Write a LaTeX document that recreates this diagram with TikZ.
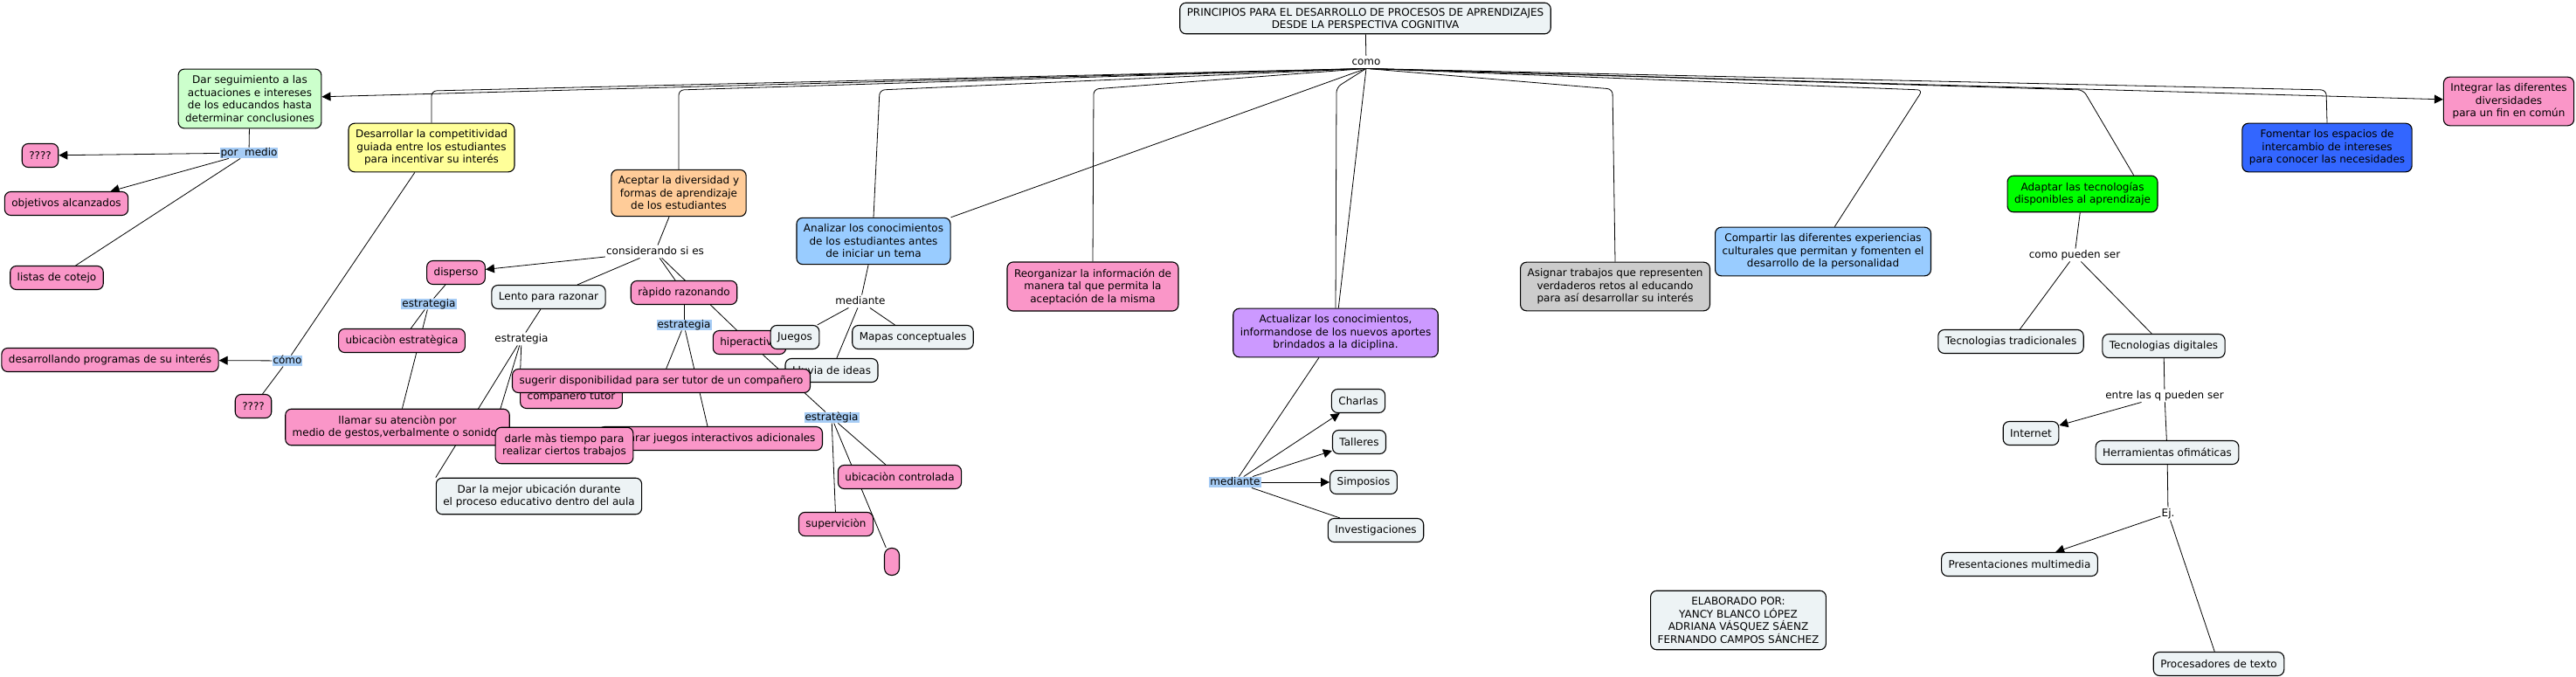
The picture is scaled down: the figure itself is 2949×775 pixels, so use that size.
\documentclass[tikz,border=0pt]{standalone}
\usepackage{fontspec}
\setmainfont{DejaVu Sans}
\usetikzlibrary{arrows.meta,backgrounds}
\definecolor{cmpink}{RGB}{250,150,200}
\definecolor{cmlight}{RGB}{237,243,245}
\definecolor{cmmint}{RGB}{204,255,204}
\definecolor{cmyellow}{RGB}{255,255,153}
\definecolor{cmorange}{RGB}{255,204,153}
\definecolor{cmsky}{RGB}{153,204,255}
\definecolor{cmviolet}{RGB}{204,153,255}
\definecolor{cmgray}{RGB}{204,204,204}
\definecolor{cmlime}{RGB}{0,255,0}
\definecolor{cmblue}{RGB}{51,102,255}
\definecolor{cmmark}{RGB}{166,204,245}

\begin{document}
\begin{tikzpicture}[x=1pt,y=-1pt,font=\fontsize{12}{14.5}\selectfont,
  nbox/.style={draw,line width=1.1pt,rounded corners=7pt,align=center,inner xsep=8pt,inner ysep=7.5pt,minimum height=27pt},
  pinkbox/.style={nbox,fill=cmpink},
  lightbox/.style={nbox,fill=cmlight},
  linkword/.style={inner sep=1pt,text height=9.5pt,text depth=3pt},
  markword/.style={linkword,inner ysep=0pt,fill=cmmark},
  link/.style={line width=0.8pt},
  arrowlink/.style={link,-{Triangle[length=10pt,width=10pt]}},
  elbow/.style={link,rounded corners=6pt}]
\useasboundingbox (0,0) rectangle (2949,775);
\node[lightbox,inner ysep=6pt] (title) at (1563,21) {PRINCIPIOS PARA EL DESARROLLO DE PROCESOS DE APRENDIZAJES\\DESDE LA PERSPECTIVA COGNITIVA};
\node[linkword] (como) at (1564,71) {como};
\node[nbox,fill=cmmint] (seguim) at (286,113) {Dar seguimiento a las\\actuaciones e intereses\\de los educandos hasta\\determinar conclusiones};
\node[markword] (porme) at (285,175) {por\ \ medio};
\node[pinkbox] (q1) at (46,178) {????};
\node[pinkbox] (objet) at (76,233) {objetivos alcanzados};
\node[pinkbox] (listas) at (65,318) {listas de cotejo};
\node[pinkbox] (desarr) at (126,412) {desarrollando programas de su interés};
\node[markword] (como2) at (329,413) {cómo};
\node[pinkbox] (q2) at (290,465) {????};
\node[nbox,fill=cmyellow] (compet) at (494,169) {Desarrollar la competitividad\\guiada entre los estudiantes\\para incentivar su interés};
\node[nbox,fill=cmorange] (acept) at (777,221) {Aceptar la diversidad y\\formas de aprendizaje\\de los estudiantes};
\node[linkword] (consid) at (750,288) {considerando si es};
\node[pinkbox] (disperso) at (522,312) {disperso};
\node[lightbox] (lento) at (628,340) {Lento para razonar};
\node[pinkbox] (rapido) at (783,335) {ràpido razonando};
\node[markword] (estr1) at (491,348) {estrategia};
\node[pinkbox] (ubicest) at (460,390) {ubicaciòn estratègica};
\node[linkword] (estr2) at (597,388) {estrategia};
\node[markword] (estr3) at (783,372) {estrategia};
\node[pinkbox] (hiper) at (858,392) {hiperactivo};
\node[lightbox] (juegos) at (910,386) {Juegos};
\node[lightbox] (mapas) at (1045,386) {Mapas conceptuales};
\node[linkword] (mediante1) at (985,345) {mediante};
\node[lightbox] (lluvia) at (952,424) {Lluvia de ideas};
\node[pinkbox] (tutor) at (654,454) {compañero tutor};
\node[pinkbox] (sugerir) at (757,436) {sugerir disponibilidad para ser tutor de un compañero};
\node[pinkbox] (llamar) at (455,489) {llamar su atenciòn por\\medio de gestos,verbalmente o sonidos};
\node[pinkbox,anchor=east] (preparar) at (942,502) {Preparar juegos interactivos adicionales};
\node[pinkbox] (darle) at (646,510) {darle màs tiempo para\\realizar ciertos trabajos};
\node[lightbox] (darmejor) at (617,568) {Dar la mejor ubicación durante\\el proceso educativo dentro del aula};
\node[markword] (estr4) at (952,478) {estratègia};
\node[pinkbox] (ubicctrl) at (1030,546) {ubicaciòn controlada};
\node[pinkbox] (superv) at (957,600) {superviciòn};
\node[pinkbox,minimum width=17pt,minimum height=31pt,inner sep=0pt,rounded corners=8pt] (blank) at (1021,643) {};
\node[nbox,fill=cmsky] (analizar) at (1000,276) {Analizar los conocimientos\\de los estudiantes antes\\de iniciar un tema};
\node[pinkbox] (reorg) at (1251,328) {Reorganizar la información de\\manera tal que permita la\\aceptación de la misma};
\node[nbox,fill=cmviolet] (actual) at (1529,381) {Actualizar los conocimientos,\\informandose de los nuevos aportes\\brindados a la diciplina.};
\node[markword] (mediante2) at (1414,552) {mediante};
\node[lightbox] (charlas) at (1555,459) {Charlas};
\node[lightbox] (talleres) at (1556,506) {Talleres};
\node[lightbox] (simposios) at (1561,552) {Simposios};
\node[lightbox] (investig) at (1575,607) {Investigaciones};
\node[nbox,fill=cmgray] (asignar) at (1849,328) {Asignar trabajos que representen\\verdaderos retos al educando\\para así desarrollar su interés};
\node[nbox,fill=cmsky] (compartir) at (2087,288) {Compartir las diferentes experiencias\\culturales que permitan y fomenten el\\desarrollo de la personalidad};
\node[nbox,fill=cmlime] (adaptar) at (2384,222) {Adaptar las tecnologías\\disponibles al aprendizaje};
\node[nbox,fill=cmblue] (fomentar) at (2664,169) {Fomentar los espacios de\\intercambio de intereses\\para conocer las necesidades};
\node[pinkbox] (integrar) at (2872,116) {Integrar las diferentes\\diversidades\\para un fin en común};
\node[linkword] (comopueden) at (2375,292) {como pueden ser};
\node[lightbox] (trad) at (2302,391) {Tecnologias tradicionales};
\node[lightbox] (digit) at (2477,396) {Tecnologias digitales};
\node[linkword] (entre) at (2478,453) {entre las q pueden ser};
\node[lightbox] (internet) at (2325,496) {Internet};
\node[lightbox] (herram) at (2481,518) {Herramientas ofimáticas};
\node[linkword] (ej) at (2482,588) {Ej.};
\node[lightbox] (present) at (2312,646) {Presentaciones multimedia};
\node[lightbox] (proces) at (2540,760) {Procesadores de texto};
\node[lightbox] (elab) at (1990,710) {ELABORADO POR:\\YANCY BLANCO LÓPEZ\\ADRIANA VÁSQUEZ SÁENZ\\FERNANDO CAMPOS SÁNCHEZ};
\begin{scope}[on background layer]
\draw[link] (title) -- (como);
\draw[arrowlink] (como.south) -- (seguim);
\draw[elbow] (como.south) -- (494,104) -- (compet.north);
\draw[elbow] (como.south) -- (777,103) -- (acept.north);
\draw[elbow] (como.south) -- (1007,103) -- (analizar.north);
\draw[link] (como.south) -- (analizar.north east);
\draw[elbow] (como.south) -- (1252,102) -- (reorg.north);
\draw[elbow] (como.south) -- (1530,100) -- (actual.north);
\draw[link] (como.south) -- (actual);
\draw[elbow] (como.south) -- (1846,102) -- (asignar.north);
\draw[elbow] (como.south) -- (2201,103) -- (compartir.65);
\draw[elbow] (como.south) -- (2385,103) -- (adaptar.20);
\draw[elbow] (como.south) -- (2663,103) -- (fomentar.north);
\draw[arrowlink] (como.south) -- (integrar);
\draw[link] (seguim) -- (porme);
\draw[arrowlink] (porme) -- (q1);
\draw[arrowlink] (porme) -- (objet);
\draw[link] (porme) -- (listas);
\draw[link] (compet) -- (como2);
\draw[arrowlink] (como2) -- (desarr);
\draw[link] (como2) -- (q2);
\draw[link] (acept) -- (consid);
\draw[arrowlink] (consid) -- (disperso);
\draw[link] (consid) -- (lento);
\draw[link] (consid) -- (rapido);
\draw[link] (consid) -- (hiper);
\draw[link] (disperso) -- (estr1);
\draw[link] (estr1) -- (ubicest);
\draw[link] (estr1) -- (llamar);
\draw[link] (lento) -- (estr2);
\draw[link] (estr2) -- (darmejor.north west);
\draw[link] (estr2) -- (darle.north west);
\draw[link] (estr2) -- (tutor.north west);
\draw[link] (rapido) -- (estr3);
\draw[link] (estr3) -- (sugerir);
\draw[link] (estr3) -- (preparar);
\draw[link] (hiper) -- (estr4);
\draw[link] (estr4) -- (superv);
\draw[link] (estr4) -- (ubicctrl);
\draw[link] (estr4) -- (blank);
\draw[link] (analizar) -- (mediante1);
\draw[link] (mediante1) -- (juegos);
\draw[link] (mediante1) -- (mapas);
\draw[link] (mediante1) -- (lluvia);
\draw[link] (actual) -- (mediante2);
\draw[arrowlink] (mediante2) -- (charlas);
\draw[arrowlink] (mediante2) -- (talleres);
\draw[arrowlink] (mediante2) -- (simposios);
\draw[link] (mediante2) -- (investig);
\draw[link] (adaptar) -- (comopueden);
\draw[link] (comopueden) -- (trad);
\draw[link] (comopueden) -- (digit);
\draw[link] (digit) -- (entre);
\draw[arrowlink] (entre) -- (internet);
\draw[link] (entre) -- (herram);
\draw[link] (herram) -- (ej);
\draw[arrowlink] (ej) -- (present);
\draw[link] (ej) -- (proces);
\end{scope}
\end{tikzpicture}
\end{document}
